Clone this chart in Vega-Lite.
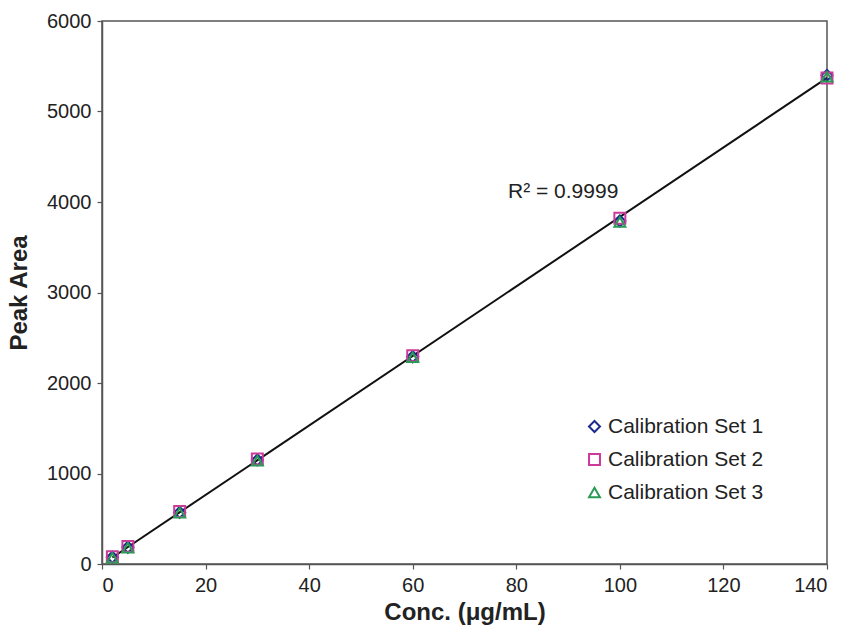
{
  "$schema": "https://vega.github.io/schema/vega-lite/v6.json",
  "width": 725,
  "height": 543,
  "autosize": "none",
  "padding": {"left": 102, "top": 21, "right": 19, "bottom": 63},
  "background": "white",
  "config": {
    "font": "Liberation Sans",
    "view": {"stroke": "#555555", "strokeWidth": 1.5},
    "axis": {
      "grid": false,
      "domainColor": "#555555",
      "domainWidth": 1.5,
      "tickColor": "#555555",
      "tickWidth": 1.2,
      "tickSize": 5,
      "labelFont": "Liberation Sans",
      "labelFontSize": 20,
      "labelColor": "#222222",
      "titleFont": "Liberation Sans",
      "titleFontSize": 24,
      "titleFontWeight": "bold",
      "titleColor": "#222222"
    }
  },
  "datasets": {
    "points": [
      {"conc": 2, "area": 75, "set": "Calibration Set 1"},
      {"conc": 5, "area": 185, "set": "Calibration Set 1"},
      {"conc": 15, "area": 570, "set": "Calibration Set 1"},
      {"conc": 30, "area": 1150, "set": "Calibration Set 1"},
      {"conc": 60, "area": 2290, "set": "Calibration Set 1"},
      {"conc": 100, "area": 3790, "set": "Calibration Set 1"},
      {"conc": 140, "area": 5400, "set": "Calibration Set 1"},
      {"conc": 2, "area": 80, "set": "Calibration Set 2"},
      {"conc": 5, "area": 195, "set": "Calibration Set 2"},
      {"conc": 15, "area": 580, "set": "Calibration Set 2"},
      {"conc": 30, "area": 1160, "set": "Calibration Set 2"},
      {"conc": 60, "area": 2300, "set": "Calibration Set 2"},
      {"conc": 100, "area": 3820, "set": "Calibration Set 2"},
      {"conc": 140, "area": 5370, "set": "Calibration Set 2"},
      {"conc": 2, "area": 70, "set": "Calibration Set 3"},
      {"conc": 5, "area": 180, "set": "Calibration Set 3"},
      {"conc": 15, "area": 565, "set": "Calibration Set 3"},
      {"conc": 30, "area": 1140, "set": "Calibration Set 3"},
      {"conc": 60, "area": 2285, "set": "Calibration Set 3"},
      {"conc": 100, "area": 3780, "set": "Calibration Set 3"},
      {"conc": 140, "area": 5385, "set": "Calibration Set 3"}
    ],
    "fit": [
      {"conc": 2, "area": 72},
      {"conc": 140, "area": 5371}
    ],
    "note": [
      {"conc": 78.4, "area": 4110, "label": "R² = 0.9999"}
    ]
  },
  "layer": [
    {
      "data": {"name": "fit"},
      "mark": {"type": "line", "color": "#111111", "strokeWidth": 2},
      "encoding": {
        "x": {"field": "conc", "type": "quantitative"},
        "y": {"field": "area", "type": "quantitative"}
      }
    },
    {
      "data": {"name": "points"},
      "mark": {"type": "point", "filled": false, "size": 120, "strokeWidth": 2, "opacity": 1},
      "encoding": {
        "x": {
          "field": "conc", "type": "quantitative",
          "scale": {"domain": [0, 140], "nice": false},
          "axis": {"values": [0, 20, 40, 60, 80, 100, 120, 140], "format": "d", "title": "Conc. (μg/mL)", "titlePadding": 5, "labelPadding": 6}
        },
        "y": {
          "field": "area", "type": "quantitative",
          "scale": {"domain": [0, 6000], "nice": false},
          "axis": {"values": [0, 1000, 2000, 3000, 4000, 5000, 6000], "format": "d", "title": "Peak Area", "titlePadding": 15, "labelPadding": 6}
        },
        "color": {
          "field": "set", "type": "nominal",
          "scale": {"domain": ["Calibration Set 1", "Calibration Set 2", "Calibration Set 3"], "range": ["#1c2a8c", "#cc3a9a", "#2a9a55"]},
          "legend": {
            "title": null,
            "orient": "none",
            "legendX": 482,
            "legendY": 395,
            "labelFont": "Liberation Sans",
            "labelFontSize": 21,
            "labelColor": "#222222",
            "symbolSize": 120,
            "symbolStrokeWidth": 2,
            "labelOffset": 3,
            "rowPadding": 11,
            "padding": 0
          }
        },
        "shape": {
          "field": "set", "type": "nominal",
          "scale": {"domain": ["Calibration Set 1", "Calibration Set 2", "Calibration Set 3"], "range": ["diamond", "square", "triangle-up"]}
        }
      }
    },
    {
      "data": {"name": "note"},
      "mark": {"type": "text", "align": "left", "baseline": "middle", "fontSize": 21, "font": "Liberation Sans", "color": "#222222"},
      "encoding": {
        "x": {"field": "conc", "type": "quantitative"},
        "y": {"field": "area", "type": "quantitative"},
        "text": {"field": "label"}
      }
    }
  ]
}
